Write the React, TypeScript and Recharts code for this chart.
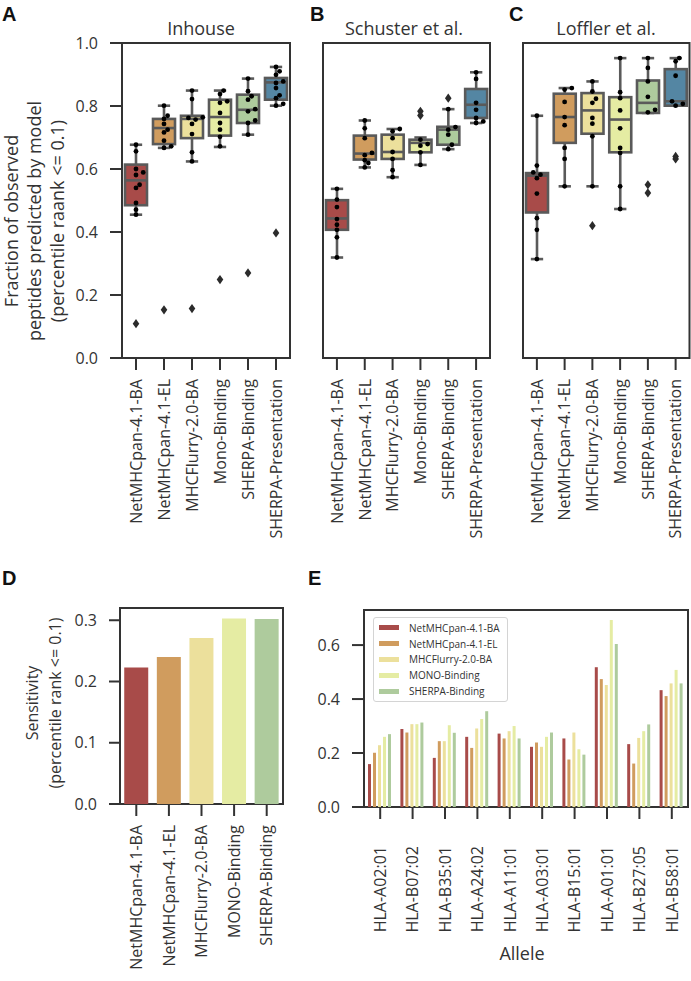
import React from 'react';
import { ComposedChart, BarChart, Bar, Scatter, XAxis, YAxis, ReferenceArea, Cell, Legend } from 'recharts';

const FONT = '"Open Sans", "Noto Sans", sans-serif';
const INK = '#333333';
const EDGE = '#5a5a5a';

const boxModels = ['NetMHCpan-4.1-BA', 'NetMHCpan-4.1-EL', 'MHCFlurry-2.0-BA', 'Mono-Binding', 'SHERPA-Binding', 'SHERPA-Presentation'];
const palette = ['#a84b49', '#d09c5e', '#ece09c', '#e5eca3', '#aecb9d', '#5486a3'];

// [whiskerLow, q1, median, q3, whiskerHigh]
const inhouseBoxes = [
  [0.455, 0.485, 0.564, 0.614, 0.677],
  [0.667, 0.679, 0.730, 0.759, 0.801],
  [0.624, 0.698, 0.759, 0.769, 0.849],
  [0.670, 0.706, 0.765, 0.820, 0.849],
  [0.709, 0.746, 0.788, 0.836, 0.887],
  [0.801, 0.820, 0.875, 0.889, 0.924],
];
const inhousePoints = [
  [0.677, 0.656, 0.600, 0.589, 0.581, 0.550, 0.540, 0.492, 0.471, 0.455],
  [0.801, 0.769, 0.759, 0.743, 0.725, 0.716, 0.690, 0.672, 0.667],
  [0.849, 0.822, 0.764, 0.762, 0.757, 0.743, 0.711, 0.653, 0.624],
  [0.849, 0.838, 0.815, 0.810, 0.778, 0.746, 0.725, 0.702, 0.672],
  [0.887, 0.847, 0.831, 0.820, 0.790, 0.783, 0.754, 0.746, 0.709],
  [0.924, 0.910, 0.899, 0.878, 0.873, 0.857, 0.834, 0.825, 0.807, 0.801],
];
const inhouseOutliers = [[0.109], [0.153], [0.157], [0.249], [0.270], [0.397]];

const schusterBoxes = [
  [0.319, 0.407, 0.443, 0.501, 0.537],
  [0.605, 0.630, 0.649, 0.706, 0.754],
  [0.574, 0.632, 0.654, 0.709, 0.727],
  [0.613, 0.653, 0.683, 0.693, 0.700],
  [0.663, 0.677, 0.725, 0.734, 0.790],
  [0.746, 0.762, 0.804, 0.854, 0.907],
];
const schusterPoints = [
  [0.537, 0.503, 0.479, 0.441, 0.423, 0.407, 0.383, 0.319],
  [0.754, 0.729, 0.698, 0.651, 0.644, 0.628, 0.619, 0.605],
  [0.727, 0.720, 0.698, 0.654, 0.632, 0.596, 0.574],
  [0.693, 0.679, 0.674, 0.653, 0.613],
  [0.790, 0.733, 0.725, 0.709, 0.677, 0.663],
  [0.907, 0.886, 0.810, 0.788, 0.762, 0.751, 0.746],
];
const schusterOutliers = [[], [], [], [0.783, 0.770], [0.825], []];

const lofflerBoxes = [
  [0.314, 0.462, 0.579, 0.587, 0.769],
  [0.545, 0.683, 0.765, 0.839, 0.857],
  [0.545, 0.712, 0.786, 0.841, 0.878],
  [0.473, 0.653, 0.757, 0.828, 0.952],
  [0.778, 0.778, 0.810, 0.881, 0.952],
  [0.801, 0.801, 0.815, 0.917, 0.952],
];
const lofflerPoints = [
  [0.769, 0.611, 0.589, 0.582, 0.571, 0.522, 0.444, 0.407, 0.314],
  [0.857, 0.852, 0.813, 0.765, 0.739, 0.667, 0.632, 0.545],
  [0.878, 0.846, 0.823, 0.810, 0.762, 0.744, 0.704, 0.545],
  [0.952, 0.844, 0.825, 0.786, 0.729, 0.667, 0.651, 0.545, 0.473],
  [0.952, 0.921, 0.878, 0.829, 0.788, 0.780],
  [0.952, 0.942, 0.896, 0.815, 0.807, 0.801],
];
const lofflerOutliers = [[], [], [0.420], [], [0.550, 0.524], [0.640, 0.632]];

const boxYTicks = [0, 0.2, 0.4, 0.6, 0.8, 1.0];

const sensModels = ['NetMHCpan-4.1-BA', 'NetMHCpan-4.1-EL', 'MHCFlurry-2.0-BA', 'MONO-Binding', 'SHERPA-Binding'];
const sensValues = [0.223, 0.240, 0.271, 0.303, 0.302];
const sensYTicks = [0, 0.1, 0.2, 0.3];

const alleles = ['HLA-A02:01', 'HLA-B07:02', 'HLA-B35:01', 'HLA-A24:02', 'HLA-A11:01', 'HLA-A03:01', 'HLA-B15:01', 'HLA-A01:01', 'HLA-B27:05', 'HLA-B58:01'];
const alleleNetBA = [0.159, 0.289, 0.182, 0.260, 0.272, 0.223, 0.254, 0.518, 0.233, 0.433];
const alleleNetEL = [0.201, 0.276, 0.244, 0.219, 0.254, 0.239, 0.176, 0.474, 0.161, 0.411];
const alleleFlurry = [0.229, 0.307, 0.244, 0.291, 0.281, 0.223, 0.276, 0.452, 0.256, 0.458];
const alleleMono = [0.260, 0.307, 0.303, 0.326, 0.300, 0.260, 0.214, 0.693, 0.281, 0.508];
const alleleSherpa = [0.270, 0.313, 0.275, 0.355, 0.254, 0.276, 0.194, 0.604, 0.306, 0.458];
const alleleYTicks = [0, 0.2, 0.4, 0.6];

// ---------- helpers ----------
type Row = { idx: number; lo: number; q1: number; med: number; q3: number; hi: number };
const toRows = (boxes: number[][]): Row[] =>
  boxes.map((b, i) => ({ idx: i, lo: b[0], q1: b[1], med: b[2], q3: b[3], hi: b[4] }));

const PX_PER_UNIT = 315;
const DOT_R = 2.4;
function swarm(values: number[]): number[] {
  const order = values.map((_, i) => i).sort((a, b) => values[a] - values[b]);
  const placed: { x: number; y: number }[] = [];
  const out = new Array(values.length).fill(0);
  const step = 3.6;
  const cands = [0, step, -step, 2 * step, -2 * step, 3 * step, -3 * step];
  for (const i of order) {
    const y = values[i] * PX_PER_UNIT;
    let chosen = cands[cands.length - 1];
    for (const dx of cands) {
      if (placed.every((p) => Math.hypot(p.x - dx, p.y - y) >= 2 * DOT_R * 0.95)) { chosen = dx; break; }
    }
    placed.push({ x: chosen, y });
    out[i] = chosen;
  }
  return out;
}

const BOX_W = 22;

const WhiskerShape = (p: any) => {
  const top = Math.min(p.y, p.y + p.height);
  const h = Math.abs(p.height);
  const cx = p.x + p.width / 2;
  const cap = p.width * 0.28;
  return (
    <g>
      <line x1={cx} x2={cx} y1={top} y2={top + h} stroke={EDGE} strokeWidth={2.6} />
      <line x1={cx - cap} x2={cx + cap} y1={top} y2={top} stroke={EDGE} strokeWidth={2.6} />
      <line x1={cx - cap} x2={cx + cap} y1={top + h} y2={top + h} stroke={EDGE} strokeWidth={2.6} />
    </g>
  );
};

const BoxShape = (p: any) => {
  const top = Math.min(p.y, p.y + p.height);
  const h = Math.abs(p.height);
  return <rect x={p.x} y={top} width={p.width} height={h} fill={palette[p.payload.idx]} stroke={EDGE} strokeWidth={2.6} />;
};

const MedianShape = (p: any) => (
  <line x1={p.cx - BOX_W / 2} x2={p.cx + BOX_W / 2} y1={p.cy} y2={p.cy} stroke={EDGE} strokeWidth={2.6} />
);

const DiamondShape = (p: any) => (
  <path d={`M${p.cx},${p.cy - 4.6} L${p.cx + 3.3},${p.cy} L${p.cx},${p.cy + 4.6} L${p.cx - 3.3},${p.cy} Z`} fill="#2b2b2b" />
);

const RotTick = (props: any) => {
  const { x, y, payload, names } = props;
  const label = names ? names[payload.value] : payload.value;
  return (
    <text x={x} y={y} transform={`rotate(-90 ${x} ${y})`} textAnchor="end" dy="0.36em" fontSize={16} fill={INK} fontFamily={FONT}>
      {label}
    </text>
  );
};

const tickLineStyle = { stroke: INK, strokeWidth: 2 };
const tickTextStyle = { fontSize: 16, fill: INK, fontFamily: FONT };

function BoxPanel(props: { left: number; width: number; mLeft: number; mRight: number; boxes: number[][]; points: number[][]; outliers: number[][]; showY: boolean }) {
  const { left, width, mLeft, mRight, boxes, points, outliers, showY } = props;
  const rows = toRows(boxes);
  const offsets = points.map((g) => swarm(g));
  const pts = points.flatMap((g, i) => g.map((v, k) => ({ idx: i, v, k })));
  const outs = outliers.flatMap((g, i) => g.map((v) => ({ idx: i, v })));
  const DotShape = (p: any) => (
    <circle cx={p.cx + offsets[p.payload.idx][p.payload.k]} cy={p.cy} r={DOT_R} fill="#000" />
  );
  return (
    <div style={{ position: 'absolute', left, top: 0, width, height: 560 }}>
      <ComposedChart width={width} height={560} data={rows} margin={{ top: 43, right: mRight, bottom: 0, left: mLeft }}>
        <XAxis
          type="number"
          dataKey="idx"
          domain={[-0.5, 5.5]}
          ticks={[0, 1, 2, 3, 4, 5]}
          interval={0}
          height={202}
          tickSize={12}
          tickMargin={9}
          axisLine={false}
          tickLine={tickLineStyle}
          tick={(tp: any) => <RotTick {...tp} names={boxModels} />}
        />
        <XAxis xAxisId="w" type="number" dataKey="idx" domain={[-0.5, 5.5]} ticks={[0, 1, 2, 3, 4, 5]} hide />
        <YAxis
          type="number"
          domain={[0, 1]}
          ticks={boxYTicks}
          interval={0}
          hide={!showY}
          width={122}
          tickSize={12}
          tickMargin={12}
          axisLine={false}
          tickLine={tickLineStyle}
          tick={tickTextStyle}
          tickFormatter={(v: number) => v.toFixed(1)}
        />
        <Bar xAxisId="w" dataKey={(d: Row) => [d.lo, d.hi]} barSize={BOX_W} shape={WhiskerShape} isAnimationActive={false} />
        <Bar dataKey={(d: Row) => [d.q1, d.q3]} barSize={BOX_W} shape={BoxShape} isAnimationActive={false} />
        <Scatter data={rows} dataKey="med" shape={MedianShape} isAnimationActive={false} />
        <Scatter data={pts} dataKey="v" shape={DotShape} isAnimationActive={false} />
        <Scatter data={outs} dataKey="v" shape={DiamondShape} isAnimationActive={false} />
        <ReferenceArea y1={0} y2={1} fill="none" stroke={INK} strokeWidth={2} ifOverflow="visible" />
      </ComposedChart>
    </div>
  );
}

const sensData = sensModels.map((name, i) => ({ name, v: sensValues[i] }));
const alleleData = alleles.map((name, i) => ({
  name,
  a: alleleNetBA[i],
  b: alleleNetEL[i],
  c: alleleFlurry[i],
  d: alleleMono[i],
  e: alleleSherpa[i],
}));
const alleleSeries = [
  { key: 'a', name: 'NetMHCpan-4.1-BA' },
  { key: 'b', name: 'NetMHCpan-4.1-EL' },
  { key: 'c', name: 'MHCFlurry-2.0-BA' },
  { key: 'd', name: 'MONO-Binding' },
  { key: 'e', name: 'SHERPA-Binding' },
];
const seriesOrder = alleleSeries.map((s) => s.name);

const LegendBox = (props: any) => {
  const payload = [...(props.payload || [])].sort(
    (p: any, q: any) => seriesOrder.indexOf(p.value) - seriesOrder.indexOf(q.value)
  );
  return (
    <div
      style={{
        border: '1px solid #d4d4d4',
        borderRadius: 3,
        background: 'rgba(255,255,255,0.85)',
        padding: '2px 8px 2px 5px',
        fontFamily: FONT,
        fontSize: 10,
        color: INK,
        width: 'max-content',
      }}
    >
      {payload.map((e: any) => (
        <div key={e.value} style={{ display: 'flex', alignItems: 'center', height: 15.8 }}>
          <span style={{ display: 'inline-block', width: 20, height: 5, background: e.color, marginRight: 10 }} />
          <span>{e.value}</span>
        </div>
      ))}
    </div>
  );
};

export default function App() {
  const letter = { fontFamily: '"Liberation Sans", Arial, sans-serif', fontWeight: 700, fontSize: 20, fill: '#111' } as any;
  const title = { fontFamily: FONT, fontSize: 18, fill: INK } as any;
  return (
    <div style={{ position: 'absolute', left: 0, top: 0, width: 691, height: 981, background: '#fff', overflow: 'hidden' }}>
      <BoxPanel left={0} width={300} mLeft={0} mRight={10} boxes={inhouseBoxes} points={inhousePoints} outliers={inhouseOutliers} showY />
      <BoxPanel left={300} width={200} mLeft={23} mRight={10} boxes={schusterBoxes} points={schusterPoints} outliers={schusterOutliers} showY={false} />
      <BoxPanel left={500} width={191} mLeft={23} mRight={1.5} boxes={lofflerBoxes} points={lofflerPoints} outliers={lofflerOutliers} showY={false} />

      <div style={{ position: 'absolute', left: 0, top: 560, width: 300, height: 421 }}>
        <BarChart width={300} height={421} data={sensData} margin={{ top: 48, right: 17, left: 0, bottom: 0 }} barCategoryGap="13%">
          <XAxis
            dataKey="name"
            height={177}
            interval={0}
            tickSize={12}
            tickMargin={9}
            axisLine={false}
            tickLine={tickLineStyle}
            tick={(tp: any) => <RotTick {...tp} />}
          />
          <YAxis
            type="number"
            domain={[0, 0.32]}
            ticks={sensYTicks}
            interval={0}
            width={120}
            tickSize={11}
            tickMargin={12}
            axisLine={false}
            tickLine={tickLineStyle}
            tick={tickTextStyle}
            tickFormatter={(v: number) => v.toFixed(1)}
          />
          <Bar dataKey="v" isAnimationActive={false}>
            {sensData.map((_, i) => (
              <Cell key={i} fill={palette[i]} />
            ))}
          </Bar>
          <ReferenceArea y1={0} y2={0.32} fill="none" stroke={INK} strokeWidth={2} ifOverflow="visible" />
        </BarChart>
      </div>

      <div style={{ position: 'absolute', left: 300, top: 560, width: 391, height: 421 }}>
        <BarChart width={391} height={421} data={alleleData} margin={{ top: 50, right: 3, left: 0, bottom: 0 }} barCategoryGap={4} barGap={2}>
          <XAxis
            dataKey="name"
            height={174}
            interval={0}
            tickSize={12}
            tickMargin={27}
            axisLine={false}
            tickLine={tickLineStyle}
            tick={(tp: any) => <RotTick {...tp} />}
          />
          <YAxis
            type="number"
            domain={[0, 0.73]}
            ticks={alleleYTicks}
            interval={0}
            width={64}
            tickSize={12}
            tickMargin={12}
            axisLine={false}
            tickLine={tickLineStyle}
            tick={tickTextStyle}
            tickFormatter={(v: number) => v.toFixed(1)}
          />
          {alleleSeries.map((s, i) => (
            <Bar key={s.key} dataKey={s.key} name={s.name} fill={palette[i]} isAnimationActive={false} />
          ))}
          <Legend
            layout="vertical"
            align="center"
            verticalAlign="middle"
            content={LegendBox}
            wrapperStyle={{ left: 73, top: 57, right: 'auto', bottom: 'auto', width: 'auto', height: 'auto' }}
          />
          <ReferenceArea y1={0} y2={0.73} fill="none" stroke={INK} strokeWidth={2} ifOverflow="visible" />
        </BarChart>
      </div>

      <svg width={691} height={981} style={{ position: 'absolute', left: 0, top: 0, pointerEvents: 'none' }}>
        <text x={2} y={21} style={letter}>A</text>
        <text x={310} y={21} style={letter}>B</text>
        <text x={509} y={21} style={letter}>C</text>
        <text x={2} y={585} style={letter}>D</text>
        <text x={308} y={585} style={letter}>E</text>

        <text x={201} y={35} textAnchor="middle" style={title}>Inhouse</text>
        <text x={404} y={35} textAnchor="middle" style={title}>Schuster et al.</text>
        <text x={606} y={35} textAnchor="middle" style={title}>Loffler et al.</text>

        <g style={title}>
          <text x={12} y={221} dy="0.36em" textAnchor="middle" transform="rotate(-90 12 221)">Fraction of observed</text>
          <text x={35} y={221} dy="0.36em" textAnchor="middle" transform="rotate(-90 35 221)">peptides predicted by model</text>
          <text x={58} y={221} dy="0.36em" textAnchor="middle" transform="rotate(-90 58 221)">(percentile raank &lt;= 0.1)</text>
        </g>
        <g style={{ fontFamily: FONT, fontSize: 16, fill: INK } as any}>
          <text x={32} y={703} dy="0.36em" textAnchor="middle" transform="rotate(-90 32 703)">Sensitivity</text>
          <text x={55} y={703} dy="0.36em" textAnchor="middle" transform="rotate(-90 55 703)">(percentile rank &lt;= 0.1)</text>
        </g>
        <text x={522} y={960} textAnchor="middle" style={title}>Allele</text>
      </svg>
    </div>
  );
}
